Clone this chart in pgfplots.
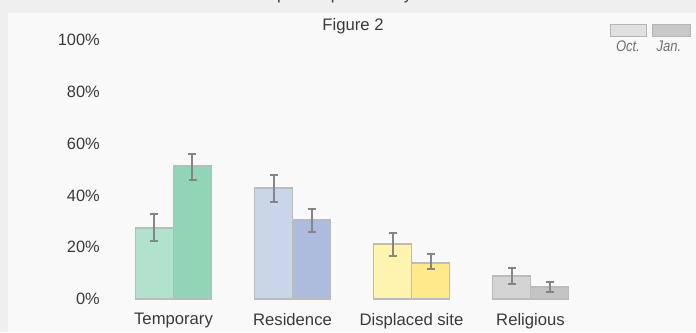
\documentclass[border=0pt]{standalone}
\usepackage{fontspec}
\setmainfont{Liberation Sans}
\newfontfamily\legfont[FakeStretch=0.85]{Liberation Sans}
\usepackage{pgfplots}
\pgfplotsset{compat=1.18}
\pgfdeclarelayer{bg}
\pgfsetlayers{bg,main}
\definecolor{outerbg}{HTML}{EFEFF0}
\definecolor{panelbg}{HTML}{F9F9F9}
\definecolor{txt}{HTML}{3A3A3A}
\definecolor{legtxt}{HTML}{707070}
\definecolor{barborder}{HTML}{BBBBBB}
\definecolor{errgray}{HTML}{858585}
\definecolor{tOct}{HTML}{B0E2CC}
\definecolor{tJan}{HTML}{92D4B6}
\definecolor{rOct}{HTML}{C9D5E8}
\definecolor{rJan}{HTML}{ADBCDC}
\definecolor{dOct}{HTML}{FFF3B0}
\definecolor{dJan}{HTML}{FFE98A}
\definecolor{gOct}{HTML}{D4D4D6}
\definecolor{gJan}{HTML}{C4C4C6}
\definecolor{legOct}{HTML}{E0E0E2}
\definecolor{legJan}{HTML}{C8C8CA}
\definecolor{legBorder}{HTML}{B4B4B4}
\pgfplotsset{errstyle/.style={draw=barborder, line width=1.1pt,
    error bars/.cd, y dir=both, y explicit,
    error bar style={color=errgray, line width=1.5pt},
    error mark options={rotate=90, mark size=3pt, line width=1.5pt, color=errgray}}}
\begin{document}
\begin{tikzpicture}
\begin{axis}[
  name=ax,
  scale only axis, width=367.5pt, height=194.25pt,
  xmin=-0.5336, xmax=3.584, ymin=0, ymax=100,
  axis line style={draw=none}, tick style={draw=none}, major tick length=0pt,
  ytick={0,20,40,60,80,100},
  yticklabels={0\%,20\%,40\%,60\%,80\%,100\%},
  xtick={0,1,2,3},
  xticklabels={Temporary,Residence,Displaced site,Religious},
  yticklabel style={anchor=east, inner sep=0pt, xshift=-7.5pt, text=txt, font=\fontsize{12.3}{14}\selectfont},
  xticklabel style={anchor=north, inner sep=0pt, yshift=-10.5pt, text=txt, font=\fontsize{12.5}{15}\selectfont},
  ybar, bar width=28.5pt,
  clip=false,
]
\addplot[fill=tOct, bar shift=-14.25pt, errstyle] coordinates {(0,27.4) += (0,5.4) -= (0,5.0)};
\addplot[fill=tJan, bar shift=14.25pt, errstyle] coordinates {(0,51.4) += (0,4.6) -= (0,5.4)};
\addplot[fill=rOct, bar shift=-14.25pt, errstyle] coordinates {(1,42.9) += (0,5.0) -= (0,5.4)};
\addplot[fill=rJan, bar shift=14.25pt, errstyle] coordinates {(1,30.5) += (0,4.2) -= (0,4.6)};
\addplot[fill=dOct, bar shift=-14.25pt, errstyle] coordinates {(2,21.2) += (0,4.3) -= (0,4.6)};
\addplot[fill=dJan, bar shift=14.25pt, errstyle] coordinates {(2,13.9) += (0,3.5) -= (0,2.3)};
\addplot[fill=gOct, bar shift=-14.25pt, errstyle] coordinates {(3,8.9) += (0,3.1) -= (0,3.1)};
\addplot[fill=gJan, bar shift=14.25pt, errstyle] coordinates {(3,4.6) += (0,2.0) -= (0,1.9)};
\end{axis}
% everything else in pixel coordinates (y upward from the picture bottom),
% with the axis box's lower-left corner at pixel (110, 33)
\begin{scope}[shift={(ax.south west)}, xshift=-82.5pt, yshift=-24.75pt, x=0.75pt, y=0.75pt]
\begin{pgfonlayer}{bg}
\fill[outerbg] (0,0) rectangle (696,332);
\fill[panelbg] (8,0) rectangle (696,318.5);
\end{pgfonlayer}
\begin{scope}
\clip (0,319) rectangle (696,332);
\node[anchor=base, text=txt, font=\fontsize{12.5}{15}\selectfont] at (360,332.5) {Displaced persons by shelter};
\end{scope}
\node[anchor=base, text=txt, font=\fontsize{12.5}{15}\selectfont] at (353,301.5) {Figure 2};
\draw[fill=legOct, draw=legBorder, line width=0.75pt] (610,307) rectangle (646,295);
\draw[fill=legJan, draw=legBorder, line width=0.75pt] (652,307) rectangle (690,295);
\node[anchor=base, text=legtxt, font=\legfont\itshape\fontsize{11.5}{13}\selectfont] at (628,280) {Oct.};
\node[anchor=base, text=legtxt, font=\legfont\itshape\fontsize{11.5}{13}\selectfont] at (669,280) {Jan.};
\pgfresetboundingbox
\useasboundingbox (0,0) rectangle (696,332);
\end{scope}
\end{tikzpicture}
\end{document}
